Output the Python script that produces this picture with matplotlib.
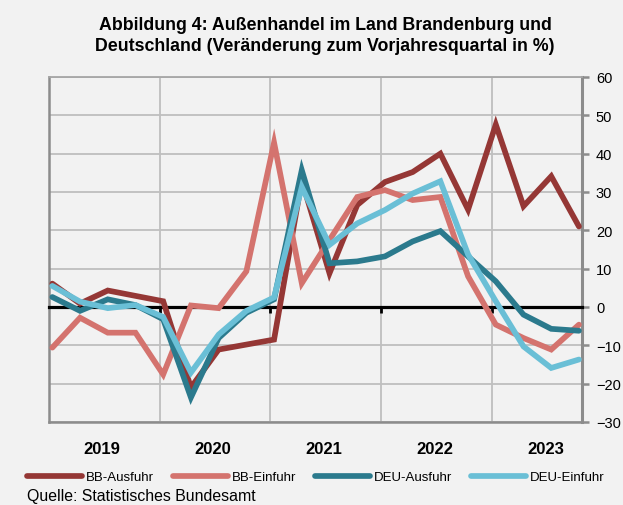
import numpy as np
import matplotlib
matplotlib.use('Agg')
import matplotlib.pyplot as plt

# quarterly change vs. previous-year quarter (%), 2019 Q1 .. 2023 Q4
years = ['2019', '2020', '2021', '2022', '2023']
bb_aus = [6.1, 0.9, 4.3, 2.9, 1.5, -21.0, -11.1, -9.8, -8.5, 33.0,
          8.8, 26.6, 32.6, 35.2, 40.0, 25.4, 47.6, 26.3, 34.1, 21.0]
bb_ein = [-10.6, -2.8, -6.7, -6.7, -17.6, 0.4, -0.3, 9.3, 42.9, 6.2,
          17.5, 28.7, 30.5, 27.9, 28.7, 8.0, -4.6, -8.1, -11.1, -4.6]
deu_aus = [2.6, -1.0, 2.0, 0.5, -3.2, -23.6, -8.1, -1.5, 2.0, 35.7,
           11.4, 11.9, 13.2, 17.1, 19.8, 13.2, 6.7, -2.0, -5.7, -6.2]
deu_ein = [5.5, 1.4, -0.3, 0.5, -2.6, -17.1, -7.2, -1.0, 2.5, 31.3,
           16.2, 21.8, 25.3, 29.6, 32.8, 13.7, 1.5, -10.3, -15.9, -13.7]
labels = ['BB-Ausfuhr', 'BB-Einfuhr', 'DEU-Ausfuhr', 'DEU-Einfuhr']
colors = ['#953735', '#D4736E', '#2B7A8D', '#6ABFD6']

font = ['Liberation Sans', 'DejaVu Sans']
bg = '#F2F2F2'

fig = plt.figure(figsize=(6.23, 5.06), dpi=100, facecolor=bg)
ax = fig.add_axes([49/623, 1-423/506, 533/623, 345/506])
ax.set_facecolor(bg)

x = np.arange(len(bb_aus))
for vals, c, lab in zip([bb_aus, bb_ein, deu_aus, deu_ein], colors, labels):
    ax.plot(x, vals, color=c, lw=4.1, label=lab, zorder=3,
            solid_joinstyle='miter', solid_capstyle='round')

ax.set_xlim(-0.12, 19.11)
ax.set_ylim(-30, 60)

# year separators
seps = [4*k - 0.13 for k in range(1, 5)]
ax.set_xticks(seps)
ax.set_xticklabels([])
ax.xaxis.grid(True, color='#BFBFBF', lw=1.3)
ax.yaxis.grid(True, color='#BFBFBF', lw=1.3)
ax.set_axisbelow(True)

# zero line as the category axis
ax.spines['bottom'].set_position(('data', 0))
ax.spines['bottom'].set_color('black')
ax.spines['bottom'].set_linewidth(2.3)
ax.tick_params(axis='x', direction='out', length=4, width=2, color='black')
ax.axhline(-30, color='#8C8C8C', lw=1.8, zorder=1, clip_on=False)

ax.spines['left'].set_color('#8C8C8C')
ax.spines['left'].set_linewidth(1.8)
ax.spines['top'].set_color('#A6A6A6')
ax.spines['top'].set_linewidth(1.3)
ax.spines['right'].set_color('#8C8C8C')
ax.spines['right'].set_linewidth(2.2)

ax.yaxis.tick_right()
ax.set_yticks(np.arange(-30, 61, 10))
ax.tick_params(axis='y', direction='out', length=5, width=1.8, color='#8C8C8C',
               pad=5, labelsize=10.5)
for t in ax.get_yticklabels():
    t.set_fontfamily(font)

for k, yr in enumerate(years):
    ax.text(4*k + 1.8, -0.078, yr, transform=ax.get_xaxis_transform(),
            ha='center', va='center', fontsize=12, fontweight='bold',
            family=font)

fig.text(325/623, 1-36/506,
         'Abbildung 4: Außenhandel im Land Brandenburg und\n'
         'Deutschland (Veränderung zum Vorjahresquartal in %)',
         ha='center', va='center', fontsize=12.8, fontweight='bold',
         family=font, linespacing=1.35)

fig.legend(loc='center left', bbox_to_anchor=(27/623, 1-478/506), ncol=4,
           frameon=False, prop={'family': font, 'size': 9.5},
           handlelength=4.15, handletextpad=0.3, columnspacing=1.45,
           borderaxespad=0, borderpad=0)

fig.text(27/623, 1-497/506, 'Quelle: Statistisches Bundesamt', ha='left',
         va='center', fontsize=11.4, family=font)

fig.savefig('out.png', dpi=100, facecolor=bg)
